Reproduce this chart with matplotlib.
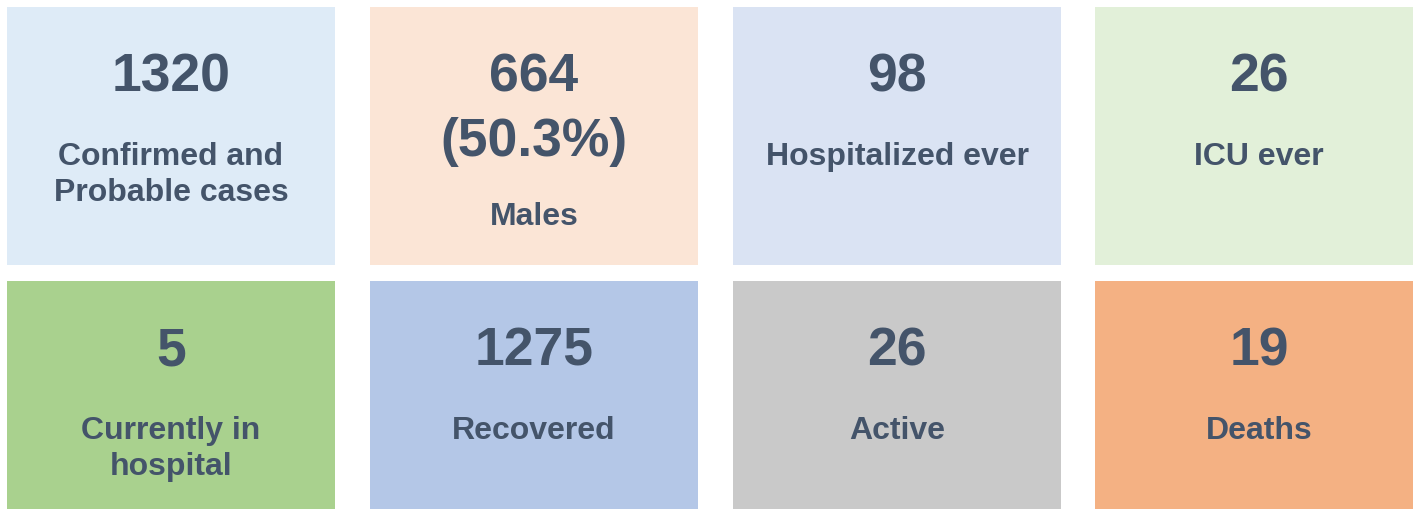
import matplotlib.pyplot as plt
from matplotlib.patches import Rectangle

# tile contents, row by row
values = ["1320", "664\n(50.3%)", "98", "26", "5", "1275", "26", "19"]
labels = ["Confirmed and\nProbable cases", "Males", "Hospitalized ever", "ICU ever",
          "Currently in\nhospital", "Recovered", "Active", "Deaths"]
colors = ["#DEEBF7", "#FBE5D6", "#DAE3F3", "#E2F0D9",
          "#A9D18E", "#B4C7E7", "#C9C9C9", "#F4B183"]

plt.rcParams['font.family'] = ['Liberation Sans', 'DejaVu Sans']
txt_color = "#44546A"

fig = plt.figure(figsize=(14.13, 5.10), dpi=100)
ax = fig.add_axes([0, 0, 1, 1])
ax.set_xlim(0, 1413)
ax.set_ylim(510, 0)
ax.axis('off')

col_x = [7, 370, 733, 1095]
col_w = [328, 328, 328, 318]
row_y = [8, 282]
row_h = [258, 228]

for i in range(8):
    r, c = divmod(i, 4)
    x0, y0 = col_x[c], row_y[r]
    ax.add_patch(Rectangle((x0, y0), col_w[c], row_h[r], facecolor=colors[i], edgecolor='none'))
    cx = x0 + 164
    y = y0 + 84
    num_lines = values[i].split("\n")
    for k, line in enumerate(num_lines):
        ax.text(cx, y + 64 * k, line, ha='center', va='baseline', fontsize=38.5,
                fontweight='bold', color=txt_color)
    # the percentage line has descenders, so the label sits a bit closer
    y += 64 * (len(num_lines) - 1) + (73 if len(num_lines) == 1 else 69)
    for k, line in enumerate(labels[i].split("\n")):
        ax.text(cx, y + 36 * k, line, ha='center', va='baseline', fontsize=23,
                fontweight='bold', color=txt_color)

fig.savefig("out.png", dpi=100)
